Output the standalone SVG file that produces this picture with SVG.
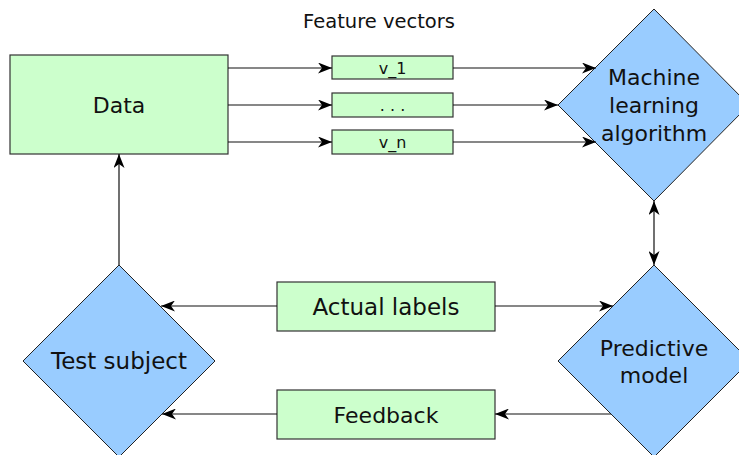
<svg xmlns="http://www.w3.org/2000/svg" width="739" height="455" viewBox="0 0 739 455">
  <style>
    .box { fill: #ccffcc; stroke: #333; stroke-width: 1.2; }
    .dia { fill: #99ccff; stroke: #222; stroke-width: 1; }
    .lbl { font-family: "DejaVu Sans", Verdana, sans-serif; font-size: 22px; fill: #111; text-anchor: middle; }
    .sm { font-family: "DejaVu Sans", Verdana, sans-serif; font-size: 16px; fill: #111; text-anchor: middle; }
    .edge { fill: none; stroke: #111; stroke-width: 1.2; }
  </style>
  <defs>
    <marker id="arr" viewBox="0 0 14 11" markerWidth="14" markerHeight="11" refX="14" refY="5.5" orient="auto-start-reverse" markerUnits="userSpaceOnUse">
      <path d="M0,0 L14,5.5 L0,11 L4,5.5 z" fill="#000"/>
    </marker>
  </defs>

  <text class="lbl" x="379" y="28" style="font-size:19.5px">Feature vectors</text>

  <g id="data">
    <rect class="box" x="10" y="55" width="218" height="99"/>
    <text class="lbl" x="119" y="113">Data</text>
  </g>
  <g id="v1">
    <rect class="box" x="332" y="56" width="121" height="23"/>
    <text class="sm" x="392.5" y="74">v_1</text>
  </g>
  <g id="vdots">
    <rect class="box" x="332" y="93" width="121" height="24"/>
    <text class="sm" x="392.5" y="111">. . .</text>
  </g>
  <g id="vn">
    <rect class="box" x="332" y="130" width="121" height="24"/>
    <text class="sm" x="392.5" y="148">v_n</text>
  </g>
  <g id="ml">
    <polygon class="dia" points="654,9 749,105 654,201 558,105"/>
    <text class="lbl" x="654" y="85">Machine</text>
    <text class="lbl" x="654" y="113">learning</text>
    <text class="lbl" x="654" y="141">algorithm</text>
  </g>
  <g id="model">
    <polygon class="dia" points="654,265 750,361 654,457 558,361"/>
    <text class="lbl" x="654" y="356">Predictive</text>
    <text class="lbl" x="654" y="383">model</text>
  </g>
  <g id="subject">
    <polygon class="dia" points="119,265 215,361 119,457 23,361"/>
    <text class="lbl" x="119" y="369" style="font-size:23px">Test subject</text>
  </g>
  <g id="labels">
    <rect class="box" x="277" y="282" width="218" height="49"/>
    <text class="lbl" x="386" y="315" style="font-size:23px">Actual labels</text>
  </g>
  <g id="feedback">
    <rect class="box" x="277" y="390" width="218" height="49"/>
    <text class="lbl" x="386" y="423">Feedback</text>
  </g>

  <g id="connectors">
    <line class="edge" x1="228" y1="68" x2="332" y2="68" marker-end="url(#arr)"/>
    <line class="edge" x1="228" y1="105" x2="332" y2="105" marker-end="url(#arr)"/>
    <line class="edge" x1="228" y1="142" x2="332" y2="142" marker-end="url(#arr)"/>
    <line class="edge" x1="453" y1="68" x2="596" y2="68" marker-end="url(#arr)"/>
    <line class="edge" x1="453" y1="105" x2="558" y2="105" marker-end="url(#arr)"/>
    <line class="edge" x1="453" y1="142" x2="596" y2="142" marker-end="url(#arr)"/>
    <line class="edge" x1="654" y1="201" x2="654" y2="265" marker-start="url(#arr)" marker-end="url(#arr)"/>
    <line class="edge" x1="277" y1="306" x2="161" y2="306" marker-end="url(#arr)"/>
    <line class="edge" x1="495" y1="306" x2="613" y2="306" marker-end="url(#arr)"/>
    <line class="edge" x1="611" y1="414" x2="495" y2="414" marker-end="url(#arr)"/>
    <line class="edge" x1="277" y1="414" x2="162" y2="414" marker-end="url(#arr)"/>
    <line class="edge" x1="119" y1="265" x2="119" y2="154" marker-end="url(#arr)"/>
  </g>
</svg>
